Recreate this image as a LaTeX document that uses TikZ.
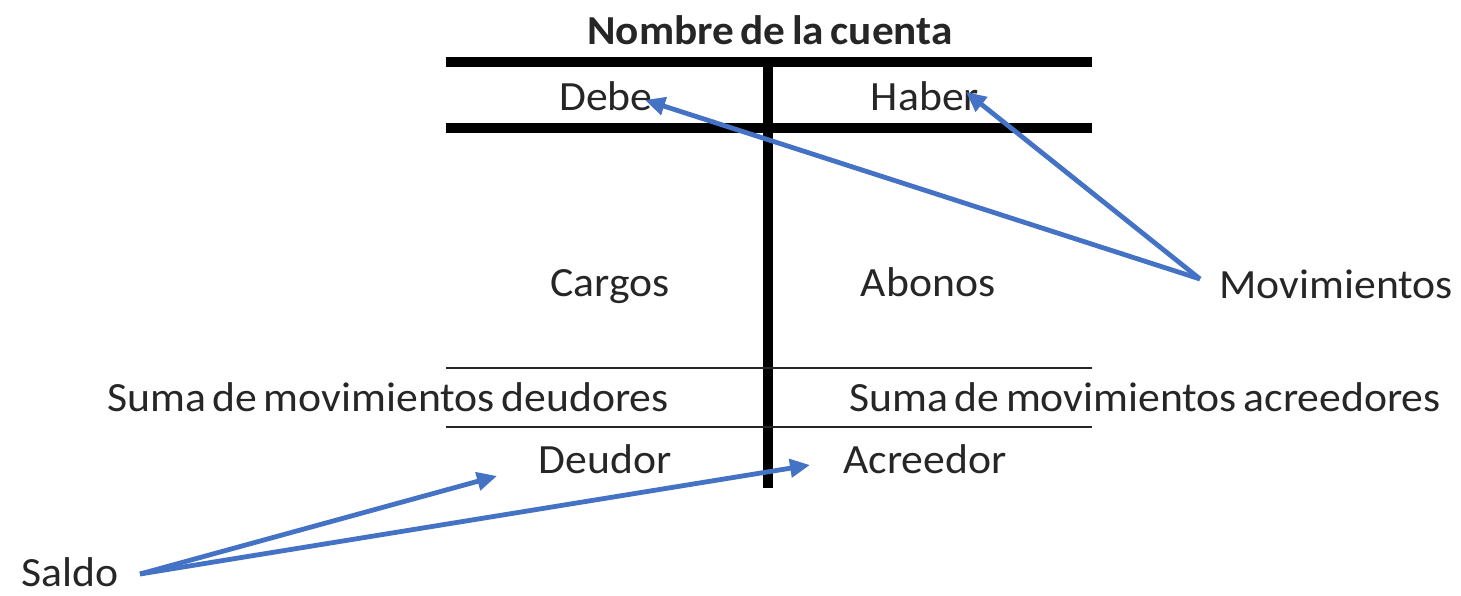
\documentclass[tikz,border=0pt]{standalone}
\usepackage{fontspec}
\setmainfont{Carlito}[FakeStretch=1.05]
\usetikzlibrary{arrows.meta}
\definecolor{arrowblue}{HTML}{4472C4}
\newcommand\tightspacing{\spaceskip=0.16em\relax}
\tikzset{
  lbl/.style={font=\fontsize{20.8pt}{24pt}\selectfont, inner sep=0pt, anchor=base, text=black!85},
  tightlbl/.style={lbl, font=\fontsize{20.8pt}{24pt}\selectfont\tightspacing},
  thickrule/.style={line width=5pt, black},
  thinrule/.style={line width=1pt, black!85},
  pointer/.style={arrowblue, line width=2.4pt, -{Triangle[length=10pt,width=9pt]}},
}
\begin{document}
\begin{tikzpicture}[x=0.5pt,y=-0.5pt]
\useasboundingbox (0,0) rectangle (1461,595);
% T-account lines
\coordinate (tl) at (446,62);
\coordinate (tr) at (1092,62);
\coordinate (ml) at (446,128);
\coordinate (mr) at (1092,128);
\coordinate (s1l) at (446,368);
\coordinate (s1r) at (1092,368);
\coordinate (s2l) at (446,427);
\coordinate (s2r) at (1092,427);
\coordinate (vt) at (768,62);
\coordinate (vb) at (768,488);
\draw[thickrule] (tl) -- (tr);
\draw[thickrule] (ml) -- (mr);
\draw[thickrule] (vt) -- (vb);
\draw[thinrule] (s1l) -- (s1r);
\draw[thinrule] (s2l) -- (s2r);
% texts
\node[lbl, font=\fontsize{20.6pt}{24pt}\selectfont\bfseries\tightspacing] (title) at (770,44) {Nombre de la cuenta};
\node[lbl] (debe) at (606,110) {Debe};
\node[lbl] (haber) at (925,110) {Haber};
\node[lbl] (cargos) at (610,296) {Cargos};
\node[lbl] (abonos) at (928,296) {Abonos};
\node[lbl, anchor=base west] (mov) at (1219,298) {Movimientos};
\node[tightlbl] (sumad) at (388,411) {Suma de movimientos deudores};
\node[tightlbl] (sumaa) at (1145,411) {Suma de movimientos acreedores};
\node[lbl] (deudor) at (605,473) {Deudor};
\node[lbl] (acreedor) at (925,473) {Acreedor};
\node[lbl, anchor=base west] (saldo) at (21,586) {Saldo};
% arrow ends
\coordinate (movfrom) at (1200,279);
\coordinate (debetip) at (645,100);
\coordinate (habertip) at (966,92);
\coordinate (saldofrom) at (140,574);
\coordinate (deudortip) at (497,476);
\coordinate (acreedortip) at (810,465);
\draw[pointer] (movfrom) -- (debetip);
\draw[pointer] (movfrom) -- (habertip);
\draw[pointer] (saldofrom) -- (deudortip);
\draw[pointer] (saldofrom) -- (acreedortip);
\end{tikzpicture}
\end{document}
